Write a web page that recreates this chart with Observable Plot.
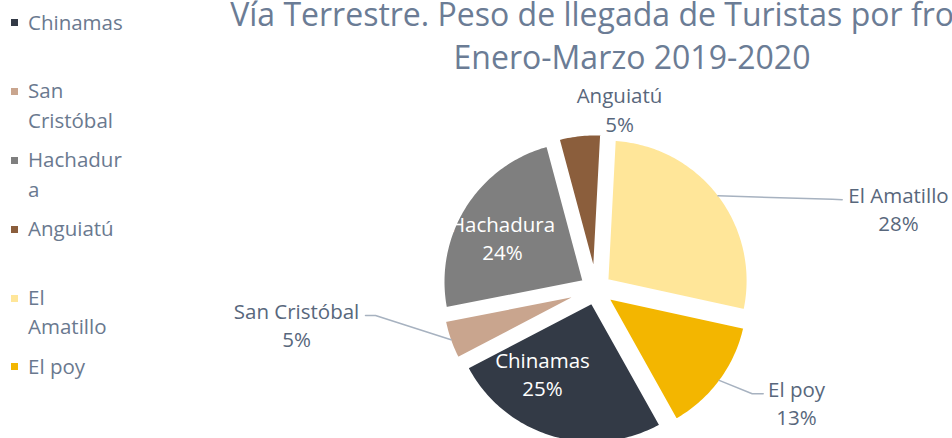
<!DOCTYPE html>
<html><head><meta charset="utf-8">
<script src="https://cdn.jsdelivr.net/npm/d3@7"></script>
<script src="https://cdn.jsdelivr.net/npm/@observablehq/plot@0.6"></script>
<style>
html,body{margin:0;padding:0;background:#fff;}
body{width:952px;height:438px;overflow:hidden;position:relative;font-family:"Open Sans",sans-serif;}
#chart{position:absolute;left:0;top:0;}
#title{position:absolute;top:-8px;left:32px;width:1200px;text-align:center;white-space:nowrap;color:#6b7c95;font-size:32px;line-height:43px;}
#legend{position:absolute;left:0;top:0;}
.item{position:absolute;left:11px;color:#6a798f;font-size:20.5px;line-height:29.5px;white-space:nowrap;}
.sw{position:absolute;left:0;top:11.9px;width:7px;height:7px;}
.txt{position:absolute;left:17px;top:0;}
</style></head><body>
<div id="chart"></div>
<div id="title"></div>
<div id="legend"></div>
<script>
// ---- data ----
const names  = ["El Amatillo", "El poy", "Chinamas", "San Cristóbal", "Hachadura", "Anguiatú"];
const shares = [27.6, 13.45, 25.45, 4.6, 23.9, 5.0];
const colors = ["#ffe699", "#f3b600", "#333a46", "#c9a58e", "#7f7f7f", "#8b5e3c"];
const legendOrder = ["Chinamas", "San Cristóbal", "Hachadura", "Anguiatú", "El Amatillo", "El poy"];
const legendLines = [["Chinamas"], ["San", "Cristóbal"], ["Hachadur", "a"], ["Anguiatú"], ["El", "Amatillo"], ["El poy"]];
const titleLines = ["Vía Terrestre. Peso de llegada de Turistas por frontera", "Enero-Marzo 2019-2020"];

// ---- layout ----
const W = 952, H = 438, CX = 595.4, CY = 288.4;
const R = 141.7, RV = 140, EXPLODE = 13.5, START = 3;
const labelLayout = {
  "El Amatillo":   {dx: 302.6, dy: -81,   inside: false, leader: [[236.6, -89.6], [246.3, -89.1]]},
  "El poy":        {dx: 200.6, dy: 113,   inside: false, leader: [[156.3, 104.9], [167.3, 104.9]]},
  "Chinamas":      {dx: -53.4, dy: 84,    inside: true},
  "San Cristóbal": {dx: -299.4, dy: 35,   inside: false, leader: [[-220.4, 26.6], [-230.4, 26.6]]},
  "Hachadura":     {dx: -93.4, dy: -52,   inside: true},
  "Anguiatú":      {dx: 23.6,  dy: -180.4, inside: false}
};

const rows = names.map((name, i) => ({name, share: shares[i]}));
const rad = Math.PI / 180;
const arcs = d3.pie().sort(null).value(d => d.share)
  .startAngle(START * rad).endAngle(START * rad + 2 * Math.PI)(rows);

const slicePts = [];
const leaderPts = [];
const labels = [];
for (const a of arcs) {
  const name = a.data.name;
  const m = (a.startAngle + a.endAngle) / 2;
  const ox = EXPLODE * Math.sin(m), oy = -EXPLODE * Math.cos(m);
  const n = Math.max(4, Math.ceil((a.endAngle - a.startAngle) / rad));
  slicePts.push({name, x: ox, y: oy});
  for (let k = 0; k <= n; k++) {
    const t = a.startAngle + (a.endAngle - a.startAngle) * k / n;
    slicePts.push({name, x: ox + R * Math.sin(t), y: oy - R * Math.cos(t)});
  }
  const L = labelLayout[name];
  labels.push({name, x: L.dx, y: L.dy, inside: L.inside, text: `${name}\n${Math.round(a.data.share)}%`});
  if (L.leader) {
    leaderPts.push({name, x: ox + RV * Math.sin(m), y: oy - RV * Math.cos(m)});
    for (const [x, y] of L.leader) leaderPts.push({name, x, y});
  }
}

const chart = Plot.plot({
  width: W, height: H, margin: 0,
  x: {type: "linear", domain: [-CX, W - CX], range: [0, W], axis: null},
  y: {type: "linear", domain: [-CY, H - CY], range: [0, H], axis: null},
  color: {domain: names, range: colors},
  style: {fontFamily: "Open Sans", background: "white"},
  marks: [
    Plot.line(slicePts, {x: "x", y: "y", z: "name", fill: "name", stroke: "white", strokeWidth: 3.5, curve: "linear-closed"}),
    Plot.line(leaderPts, {x: "x", y: "y", z: "name", stroke: "#a7b2c0", strokeWidth: 1.5}),
    Plot.text(labels.filter(d => !d.inside), {x: "x", y: "y", text: "text", fill: "#58677c", fontSize: 20.5, lineHeight: 1.4, lineAnchor: "middle"}),
    Plot.text(labels.filter(d => d.inside), {x: "x", y: "y", text: "text", fill: "white", fontSize: 20.5, lineHeight: 1.4, lineAnchor: "middle"})
  ]
});
document.getElementById("chart").appendChild(chart);

document.getElementById("title").innerHTML = titleLines.map(t => `<div>${t}</div>`).join("");

const colorOf = Object.fromEntries(names.map((n, i) => [n, colors[i]]));
const leg = document.getElementById("legend");
legendOrder.forEach((n, i) => {
  const it = document.createElement("div");
  it.className = "item";
  it.style.top = (7.6 + i * 68.8) + "px";
  it.innerHTML = `<span class="sw" style="background:${colorOf[n]}"></span><div class="txt">${legendLines[i].join("<br>")}</div>`;
  leg.appendChild(it);
});
</script>
</body></html>
